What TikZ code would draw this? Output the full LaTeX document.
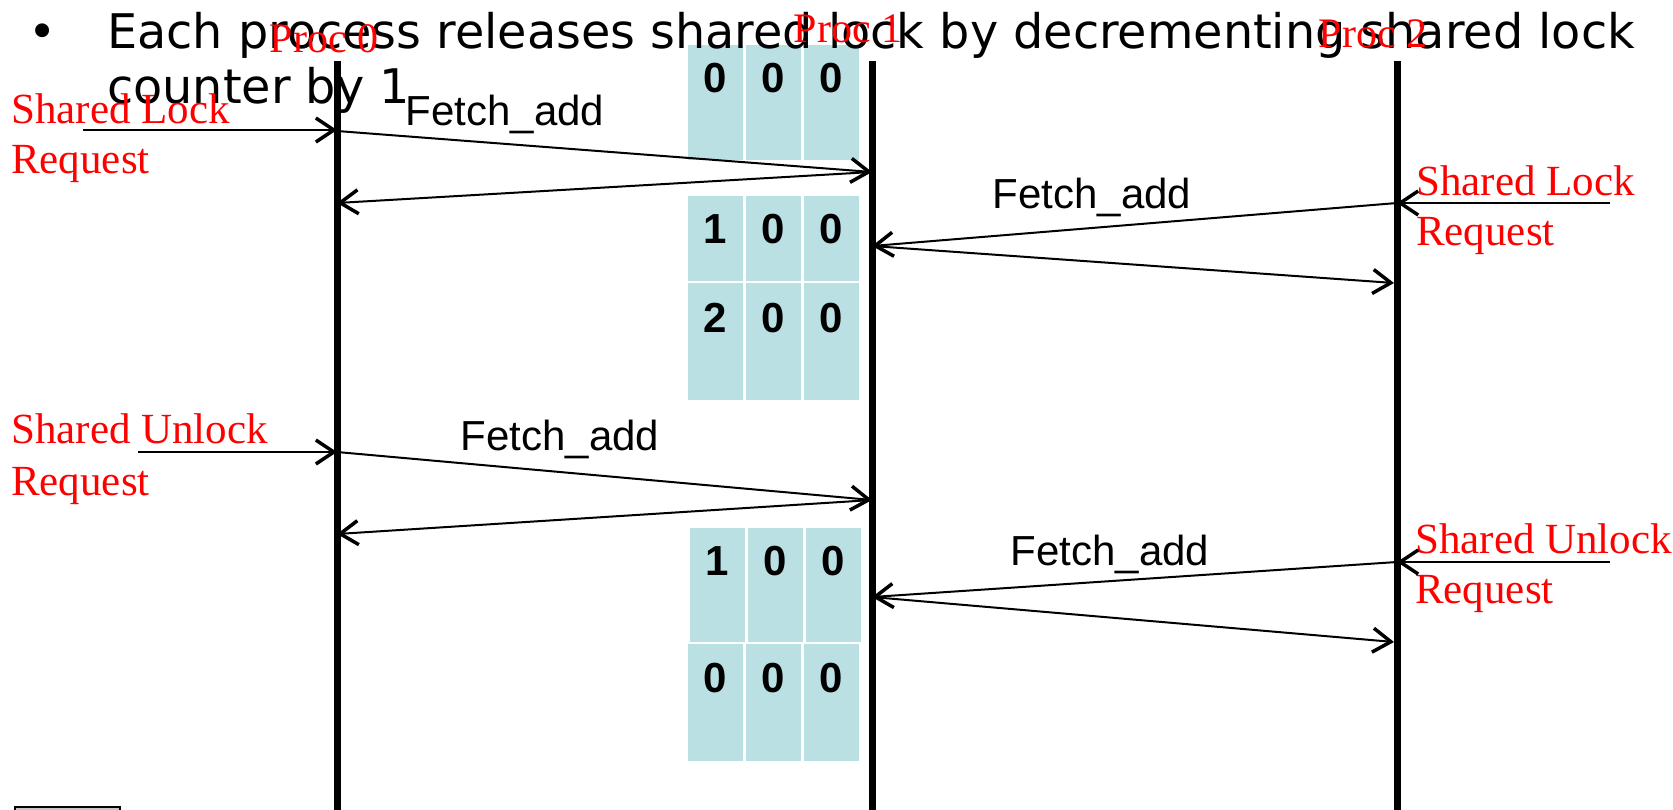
\documentclass[tikz,border=0pt]{standalone}
\usepackage{fontspec}
\setmainfont{Liberation Serif}
\newfontfamily\bodyfont{DejaVu Sans}
\newfontfamily\labelfont{Liberation Sans}
\usetikzlibrary{arrows.meta}
\definecolor{cellfill}{RGB}{187,224,227}
\definecolor{reqred}{RGB}{255,0,0}

% one row of the three-entry lock counter: prefix, left x, top, bottom, digit baseline, digits
\newcommand\counterrow[8]{%
  \foreach \k/\d in {0/#6,1/#7,2/#8}{%
    \fill[cellfill] ({#2+58*\k},#3) rectangle ({#2+58*\k+55},#4);
    \node[digit] (#1\k) at ({#2+58*\k+27.5},#5) {\d};
  }}

\begin{document}
\begin{tikzpicture}[x=1pt,y=-1pt,
  lifeline/.style={line width=7pt},
  msg/.style={line width=2pt,-{Straight Barb[length=18pt,width=24pt,line width=3.5pt]}},
  req/.style={text=reqred,font=\fontsize{43}{51}\selectfont,anchor=base west,inner sep=0pt},
  proc/.style={text=reqred,font=\fontsize{42}{50}\selectfont,anchor=base,inner sep=0pt},
  op/.style={font=\labelfont\fontsize{42}{50}\selectfont,anchor=base,inner sep=0pt},
  digit/.style={font=\labelfont\bfseries\fontsize{42}{50}\selectfont,anchor=base,inner sep=0pt},
  bodytext/.style={font=\bodyfont\fontsize{47.7}{57}\selectfont,anchor=base west,inner sep=0pt},
]
\clip (0,0) rectangle (1673,809);
\fill[white] (0,0) rectangle (1673,809);

% lock counter snapshots
\counterrow{ta}{688}{45}{160}{92}{0}{0}{0}
\counterrow{tb}{688}{196}{281}{243}{1}{0}{0}
\counterrow{tc}{688}{283}{400}{332}{2}{0}{0}
\counterrow{td}{690}{528}{642}{575}{1}{0}{0}
\counterrow{te}{688}{644}{761}{692}{0}{0}{0}

% bullet text
\node[bodytext,anchor=base] (bullet) at (43,48) {•};
\node[bodytext] (line1) at (107,48) {Each process releases shared lock by decrementing shared lock};
\node[bodytext] (line2) at (107,103) {counter by 1};

% process names
\node[proc] (n0) at (324,52) {Proc 0};
\node[proc] (n1) at (848,42) {Proc 1};
\node[proc] (n2) at (1373,47) {Proc 2};

% lifelines
\coordinate (p0top) at (337,61);  \coordinate (p0bot) at (337,815);
\coordinate (p1top) at (872,61);  \coordinate (p1bot) at (872,815);
\coordinate (p2top) at (1397,61); \coordinate (p2bot) at (1397,815);
\draw[lifeline] (p0top) -- (p0bot);
\draw[lifeline] (p1top) -- (p1bot);
\draw[lifeline] (p2top) -- (p2bot);

% request labels
\node[req] (rq1a) at (11,123) {Shared Lock};
\node[req] (rq1b) at (11,173) {Request};
\node[req] (rq2a) at (1416,195) {Shared Lock};
\node[req] (rq2b) at (1416,245) {Request};
\node[req] (rq3a) at (11,443) {Shared Unlock};
\node[req] (rq3b) at (11,495) {Request};
\node[req] (rq4a) at (1415,553) {Shared Unlock};
\node[req] (rq4b) at (1415,603) {Request};

% operation labels
\node[op] (fa1) at (505,125) {Fetch\_add};
\node[op] (fa2) at (1092,208) {Fetch\_add};
\node[op] (fa3) at (560,450) {Fetch\_add};
\node[op] (fa4) at (1110,565) {Fetch\_add};

% message end points
\coordinate (s1) at (83,130);    \coordinate (a0) at (337,130);
\coordinate (a0o) at (337,131);  \coordinate (a1) at (872,172);
\coordinate (a0r) at (337,203);
\coordinate (s2) at (1610,203);  \coordinate (b2) at (1397,203);
\coordinate (b1) at (872,246);   \coordinate (b2r) at (1394,283);
\coordinate (s3) at (138,452);   \coordinate (c0) at (337,452);
\coordinate (c1) at (872,500);   \coordinate (c0r) at (337,534);
\coordinate (s4) at (1610,562);  \coordinate (d2) at (1397,562);
\coordinate (d1) at (872,597);   \coordinate (d2r) at (1394,642);

% messages
\draw[msg] (s1) -- (a0);
\draw[msg] (a0o) -- (a1);
\draw[msg] (a1) -- (a0r);
\draw[msg] (s2) -- (b2);
\draw[msg] (b2) -- (b1);
\draw[msg] (b1) -- (b2r);
\draw[msg] (s3) -- (c0);
\draw[msg] (c0) -- (c1);
\draw[msg] (c1) -- (c0r);
\draw[msg] (s4) -- (d2);
\draw[msg] (d2) -- (d1);
\draw[msg] (d1) -- (d2r);

% small box at the lower edge
\coordinate (bx1) at (15,807); \coordinate (bx2) at (120,840);
\draw[line width=2pt,fill=gray!45] (bx1) rectangle (bx2);
\end{tikzpicture}
\end{document}
